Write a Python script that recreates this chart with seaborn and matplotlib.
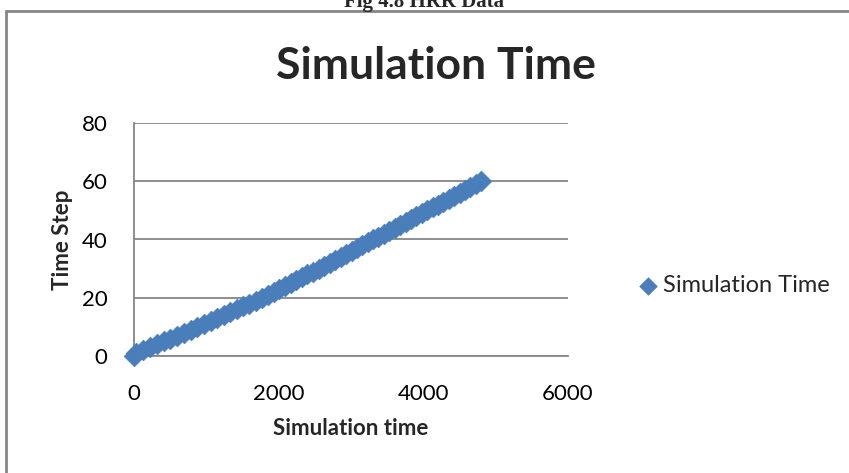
import matplotlib
matplotlib.use("Agg")
import matplotlib.pyplot as plt
import seaborn as sns
import pandas as pd
from matplotlib.patches import Rectangle

# Data
time_step = list(range(0, 61))
sim_time = [0, 30, 125, 220, 315, 410, 504, 598, 691, 784,
            876, 968, 1059, 1150, 1240, 1329, 1418, 1506, 1593, 1680,
            1766, 1848, 1929, 2009, 2088, 2166, 2244, 2321, 2398, 2475,
            2552, 2628, 2704, 2780, 2856, 2932, 3007, 3082, 3157, 3231,
            3305, 3380, 3455, 3530, 3605, 3680, 3755, 3830, 3905, 3980,
            4055, 4130, 4204, 4278, 4352, 4426, 4500, 4575, 4650, 4725,
            4800]
x_ticks = [0, 2000, 4000, 6000]
y_ticks = [0, 20, 40, 60, 80]

df = pd.DataFrame({"Simulation time": sim_time, "Time Step": time_step})

sns.set_theme(style="white")
plt.rcParams['font.family'] = ['Lato', 'DejaVu Sans']

blue = "#4A7EBB"
grey = "#868686"

fig = plt.figure(figsize=(8.49, 4.73), dpi=100)
ax = fig.add_axes([134 / 849, 1 - 356 / 473, (568 - 134) / 849, (356 - 123) / 473])

sns.scatterplot(data=df, x="Simulation time", y="Time Step", marker="D", s=110,
                color=blue, edgecolor=blue, linewidth=0.5, ax=ax,
                label="Simulation Time", legend=False, clip_on=False, zorder=3)

ax.set_xlim(0, 6000)
ax.set_ylim(0, 80)
ax.set_xticks(x_ticks)
ax.set_yticks(y_ticks)
ax.tick_params(axis="both", length=0, labelsize=16, colors="black")
ax.tick_params(axis="x", pad=20)
ax.tick_params(axis="y", pad=19)
ax.yaxis.grid(True, color=grey, linewidth=1.3)
ax.set_axisbelow(True)
for side in ["top", "right"]:
    ax.spines[side].set_visible(False)
for side in ["left", "bottom"]:
    ax.spines[side].set_color(grey)
    ax.spines[side].set_linewidth(1.3)

ax.set_xlabel("Simulation time", fontsize=16, fontweight="bold", labelpad=10)
ax.set_ylabel("Time Step", fontsize=16, fontweight="bold", labelpad=6)

# chart title is centred on the whole chart area, not the plot
fig.text(436 / 849, 1 - 66 / 473, "Simulation Time", ha="center", va="center",
         fontsize=32, fontweight="bold")

handles, labels = ax.get_legend_handles_labels()
fig.legend(handles, labels, loc="center left", bbox_to_anchor=(613 / 849, 1 - 286 / 473),
           frameon=False, fontsize=17, handletextpad=0.0, handlelength=1.2,
           markerscale=0.85)

# chart border (cropped at right/bottom like the source)
fig.patches.append(Rectangle((5.5 / 849, -0.1), 1.2, 1 - 11.5 / 473 + 0.1,
                             transform=fig.transFigure, fill=False,
                             edgecolor=grey, linewidth=2))
fig.text(0.5, 1 - 2 / 473, "Fig 4.8 HRR Data", ha="center", va="center",
         fontsize=15, fontweight="bold", family="Liberation Serif")

fig.savefig("out.png", dpi=100)
